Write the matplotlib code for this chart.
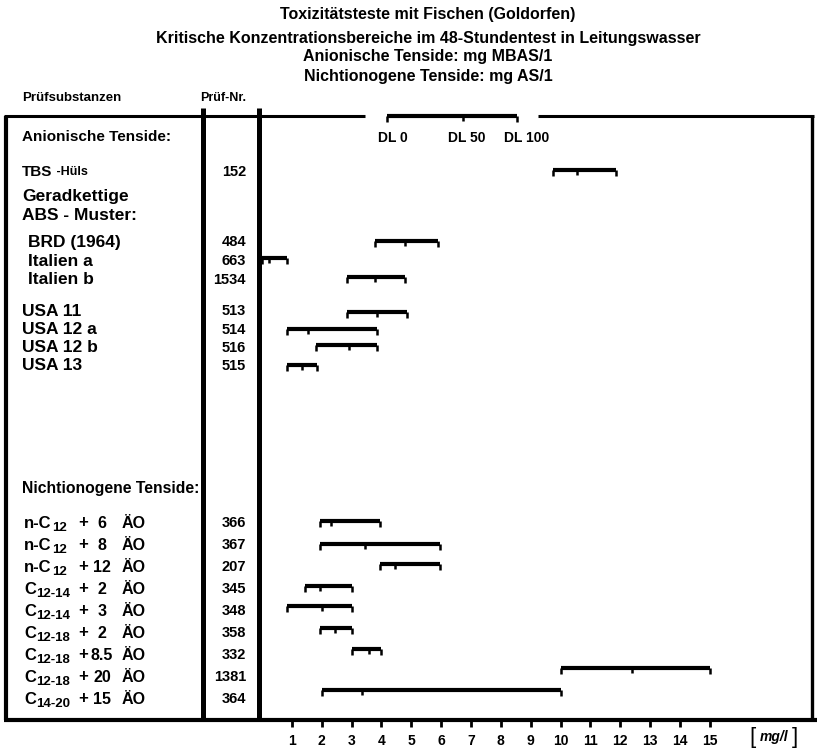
import matplotlib
matplotlib.use("Agg")
import matplotlib.pyplot as plt

plt.rcParams['font.family'] = ['Liberation Sans', 'DejaVu Sans']

# ---------------- data ----------------
title_lines = [
    "Toxizitätsteste mit Fischen (Goldorfen)",
    "Kritische Konzentrationsbereiche im 48-Stundentest in Leitungswasser",
    "Anionische Tenside: mg MBAS/1",
    "Nichtionogene Tenside: mg AS/1",
]
col_headers = ["Prüfsubstanzen", "Prüf-Nr."]
group_anion = "Anionische Tenside:"
group_nonion = "Nichtionogene Tenside:"
sub_group = ["Geradkettige", "ABS - Muster:"]

anion_names = ["TBS", "BRD (1964)", "Italien a", "Italien b",
               "USA 11", "USA 12 a", "USA 12 b", "USA 13"]
anion_nr = ["152", "484", "663", "1534", "513", "514", "516", "515"]
anion_dl0 = [9.75, 3.8, 0.0, 2.85, 2.85, 0.85, 1.8, 0.85]
anion_dl50 = [10.55, 4.8, 0.25, 3.8, 3.85, 1.55, 2.9, 1.35]
anion_dl100 = [11.85, 5.9, 0.85, 4.8, 4.85, 3.85, 3.85, 1.85]

nonion_chain = ["n-C", "n-C", "n-C", "C", "C", "C", "C", "C", "C"]
nonion_sub = ["12", "12", "12", "12-14", "12-14", "12-18", "12-18", "12-18", "14-20"]
nonion_eo = ["6", "8", "12", "2", "3", "2", "8.5", "20", "15"]
nonion_nr = ["366", "367", "207", "345", "348", "358", "332", "1381", "364"]
nonion_dl0 = [1.95, 1.95, 3.95, 1.45, 0.85, 1.95, 3.0, 10.0, 2.0]
nonion_dl50 = [2.3, 3.45, 4.45, 1.95, 2.0, 2.45, 3.6, 12.4, 3.35]
nonion_dl100 = [3.95, 5.95, 5.95, 3.0, 3.0, 3.0, 4.0, 15.0, 10.0]

x_ticks = list(range(1, 16))
unit_label = "mg/l"
dl_key_values = [4.2, 6.75, 8.55]
dl_key_labels = ["DL 0", "DL 50", "DL 100"]

# ---------------- layout (pixel rows) ----------------
W, H = 817, 749
anion_row_y = [172, 242, 261, 280, 311, 330, 348, 366]
anion_bar_y = [170, 241, 258, 277, 312, 329, 345, 365]
nonion_row_y = [523, 545, 567, 589, 611, 633, 655, 677, 699]
nonion_bar_y = [521, 544, 564, 586, 606, 628, 649, 668, 690]
dl_label_shift = [0.2, 0.12, 0.3]

fig = plt.figure(figsize=(W / 100, H / 100), dpi=100)
ax0 = fig.add_axes([0, 0, 1, 1])
ax0.set_xlim(0, W)
ax0.set_ylim(H, 0)
ax0.axis('off')

X0PX, PXU = 262, 29.85
left_px, right_px, top_px, bot_px = 260, 812, 116, 720
axb = fig.add_axes([left_px / W, 1 - bot_px / H, (right_px - left_px) / W, (bot_px - top_px) / H])
axb.set_xlim((left_px - X0PX) / PXU, (right_px - X0PX) / PXU)
axb.set_ylim(bot_px, top_px)
axb.patch.set_alpha(0)
for s in axb.spines.values():
    s.set_visible(False)
axb.set_yticks([])
axb.set_xticks(x_ticks)
axb.set_xticklabels([str(t) for t in x_ticks], fontsize=10, fontweight='bold')
axb.tick_params(axis='x', direction='out', length=5, width=2, pad=5, color='black')

K = 'black'
# frame
ax0.plot([4, W], [bot_px, bot_px], color=K, lw=3, solid_capstyle='butt')
ax0.plot([6, 6], [top_px, bot_px], color=K, lw=3, solid_capstyle='butt')
ax0.plot([203, 203], [108, bot_px], color=K, lw=3.6, solid_capstyle='butt')
ax0.plot([259, 259], [108, bot_px], color=K, lw=3.6, solid_capstyle='butt')
ax0.plot([812, 812], [top_px, bot_px], color=K, lw=2.4, solid_capstyle='butt')
ax0.plot([4, 365], [top_px, top_px], color=K, lw=2.2, solid_capstyle='butt')
ax0.plot([538, 814], [top_px, top_px], color=K, lw=2.2, solid_capstyle='butt')


def bracket(ax, lo, mid, hi, y):
    ax.plot([lo, hi], [y, y], color=K, lw=3, solid_capstyle='butt', clip_on=False)
    ax.vlines([lo, hi], y, y + 6, color=K, lw=1.8, clip_on=False)
    ax.vlines([mid], y, y + 4.5, color=K, lw=1.8, clip_on=False)


# DL key on top border
bracket(axb, dl_key_values[0], dl_key_values[1], dl_key_values[2], top_px)
for v, sh, lab in zip(dl_key_values, dl_label_shift, dl_key_labels):
    axb.text(v + sh, 138, lab, ha='center', va='center', fontsize=10, fontweight='bold')

# bars
for lo, mid, hi, y in zip(anion_dl0, anion_dl50, anion_dl100, anion_bar_y):
    bracket(axb, lo, mid, hi, y)
for lo, mid, hi, y in zip(nonion_dl0, nonion_dl50, nonion_dl100, nonion_bar_y):
    bracket(axb, lo, mid, hi, y)

# titles
for txt, y in zip(title_lines, [15, 38, 57, 76]):
    ax0.text(428, y, txt, ha='center', va='center', fontsize=11.5, fontweight='bold')
ax0.text(22, 98, col_headers[0], ha='left', va='center', fontsize=9.5, fontweight='bold')
ax0.text(200, 98, col_headers[1], ha='left', va='center', fontsize=9, fontweight='bold')

# left labels
ax0.text(22, 137, group_anion, ha='left', va='center', fontsize=11, fontweight='bold')
ax0.text(22, 196, sub_group[0], ha='left', va='center', fontsize=12.5, fontweight='bold')
ax0.text(22, 216, sub_group[1], ha='left', va='center', fontsize=12.5, fontweight='bold')
anion_x = [22, 28, 28, 28, 22, 22, 22, 22]
for i, (name, nr, y, x) in enumerate(zip(anion_names, anion_nr, anion_row_y, anion_x)):
    fs = 11 if i == 0 else 12.5
    ax0.text(x, y, name, ha='left', va='center', fontsize=fs, fontweight='bold')
    ax0.text(246, y, nr, ha='right', va='center', fontsize=10.5, fontweight='bold')
ax0.text(53, anion_row_y[0], " -Hüls", ha='left', va='center', fontsize=9, fontweight='bold')

ax0.text(22, 488, group_nonion, ha='left', va='center', fontsize=11.3, fontweight='bold')
for ch, sub, eo, nr, y in zip(nonion_chain, nonion_sub, nonion_eo, nonion_nr, nonion_row_y):
    ax0.text(24, y, ch, ha='left', va='center', fontsize=12, fontweight='bold')
    sx = 52 if ch == "n-C" else 36.5
    ax0.text(sx, y + 5, sub, ha='left', va='center', fontsize=9.5, fontweight='bold')
    ax0.text(83, y, "+", ha='center', va='center', fontsize=12, fontweight='bold')
    ax0.text(102, y, eo, ha='center', va='center', fontsize=11.5, fontweight='bold')
    ax0.text(122, y, "ÄO", ha='left', va='center', fontsize=11.5, fontweight='bold')
    ax0.text(246, y, nr, ha='right', va='center', fontsize=10.5, fontweight='bold')

# unit label
ax0.text(753, 738, "[", ha='center', va='center', fontsize=16)
ax0.text(774, 737, unit_label, ha='center', va='center', fontsize=10, fontweight='bold', style='italic')
ax0.text(795, 738, "]", ha='center', va='center', fontsize=16)

fig.savefig("out.png", dpi=100)
